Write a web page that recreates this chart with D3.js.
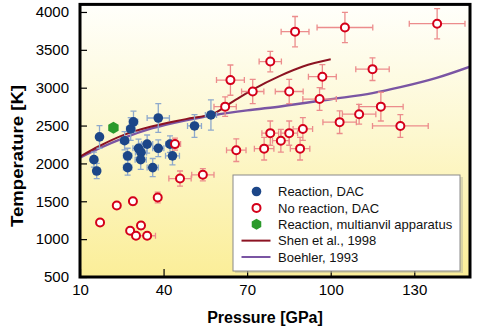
<!DOCTYPE html>
<html>
<head>
<meta charset="utf-8">
<script src="https://cdn.jsdelivr.net/npm/d3@7"></script>
<style>
  body { margin: 0; background: #fff; }
  svg text { font-family: "Liberation Sans", Arial, sans-serif; }
</style>
</head>
<body>
<div class="container"></div>
<script>
// pressure [GPa], temperature [K], pressure error, temperature error
var reactionP  = [17, 15, 16, 26, 28.2, 29.2, 38.1, 51.1, 57, 27.1, 27.1, 31, 34.1, 31.9, 31.8, 38.1, 36.1, 42.3, 43.2];
var reactionT  = [2350, 2050, 1900, 2300, 2455, 2550, 2600, 2495, 2640, 2100, 1945, 2200, 2255, 2145, 2050, 2200, 1945, 2255, 2100];
var reactionDP = [0.5, 0.5, 1, 1.5, 1.5, 1.5, 4, 2.5, 2, 1.5, 1.5, 2, 2, 2, 2, 2, 2, 1.5, 2.5];
var reactionDT = [150, 100, 100, 120, 150, 140, 190, 150, 200, 100, 100, 120, 120, 120, 130, 110, 120, 110, 120];

var noReactP  = [17.2, 23.2, 29, 37.9, 28, 30.1, 31.9, 34.1, 45.9, 54.1, 44.1, 66.1, 76.1, 89, 78.3, 85.1, 82.1, 90,
                 62.1, 64, 72, 85.1, 96, 97, 78.3, 87.2, 105.1, 138.2, 115, 103.2, 110.2, 118, 125];
var noReactT  = [1220, 1445, 1500, 1550, 1110, 1045, 1180, 1045, 1800, 1850, 2255, 2175, 2195, 2195, 2400, 2400, 2300, 2455,
                 2750, 3100, 2950, 2950, 2850, 3145, 3345, 3740, 3795, 3845, 3245, 2545, 2650, 2750, 2495];
var noReactDP = [0, 0, 0.5, 1, 0, 0, 0, 3, 4, 4, 2, 3.5, 3.5, 3.5, 3, 3, 3, 3.5,
                 4, 5, 4, 5, 6, 5, 4, 5, 10, 10, 6, 6, 6, 8, 10];
var noReactDT = [0, 0, 50, 70, 0, 0, 50, 0, 100, 80, 80, 150, 150, 150, 160, 160, 150, 150,
                 130, 200, 160, 160, 150, 160, 135, 200, 200, 200, 150, 150, 130, 190, 150];

var multianvilP = [22];
var multianvilT = [2470];

var shenP = [10, 17, 26, 36, 48, 58, 65, 72, 82, 90, 100];
var shenT = [2090, 2230, 2380, 2490, 2585, 2660, 2820, 2975, 3160, 3280, 3375];

var boehlerP = [10, 17, 26, 36, 48, 58.5, 70, 82.5, 100, 115, 125, 138, 150];
var boehlerT = [2075, 2200, 2340, 2465, 2570, 2640, 2700, 2755, 2848, 2928, 3007, 3130, 3278];

var xTicks = [10, 40, 70, 100, 130];
var yTicks = [500, 1000, 1500, 2000, 2500, 3000, 3500, 4000];

var legendLabels = ["Reaction, DAC", "No reaction, DAC", "Reaction, multianvil apparatus", "Shen et al., 1998", "Boehler, 1993"];

var width = 479, height = 330;
var plotLeft = 80, plotRight = 470, plotTop = 4.4, plotBottom = 277;

var x = d3.scaleLinear().domain([10, 150]).range([plotLeft, plotRight]);
var y = d3.scaleLinear().domain([500, 4100]).range([plotBottom, plotTop]);

var svg = d3.select(".container").append("svg")
            .attr("width", width)
            .attr("height", height);

var defs = svg.append("defs");
var grad = defs.append("linearGradient")
               .attr("id", "bg")
               .attr("x1", 0).attr("y1", 0).attr("x2", 0).attr("y2", 1);
grad.append("stop").attr("offset", "0%").attr("stop-color", "#fffffb");
grad.append("stop").attr("offset", "45%").attr("stop-color", "#fdf8d2");
grad.append("stop").attr("offset", "100%").attr("stop-color", "#fbee98");

svg.append("clipPath").attr("id", "clip")
   .append("rect")
   .attr("x", plotLeft).attr("y", plotTop)
   .attr("width", plotRight - plotLeft).attr("height", plotBottom - plotTop);

svg.append("rect")
   .attr("x", plotLeft).attr("y", plotTop)
   .attr("width", plotRight - plotLeft).attr("height", plotBottom - plotTop)
   .attr("fill", "url(#bg)");

// axes with inward ticks
var xAxis = svg.append("g")
               .attr("transform", `translate(0,${plotBottom})`)
               .call(d3.axisBottom(x).tickValues(xTicks).tickFormat(d3.format("d"))
                       .tickSizeInner(-8).tickSizeOuter(0).tickPadding(13));
var yAxis = svg.append("g")
               .attr("transform", `translate(${plotLeft},0)`)
               .call(d3.axisLeft(y).tickValues(yTicks).tickFormat(d3.format("d"))
                       .tickSizeInner(-7).tickSizeOuter(0).tickPadding(11));

[xAxis, yAxis].forEach(function(a) {
  a.select(".domain").remove();
  a.selectAll(".tick line").attr("stroke", "#000").attr("stroke-width", 1.2);
  a.selectAll("text").attr("fill", "#000").style("font-size", "15px");
});
xAxis.selectAll("text").attr("dy", "0.35em");

var plot = svg.append("g").attr("clip-path", "url(#clip)");

// curves
var line = d3.line().x(d => x(d[0])).y(d => y(d[1])).curve(d3.curveMonotoneX);

plot.append("path")
    .datum(d3.zip(boehlerP, boehlerT))
    .attr("d", line)
    .attr("fill", "none")
    .attr("stroke", "#7a55a3")
    .attr("stroke-width", 2.4);

plot.append("path")
    .datum(d3.zip(shenP, shenT))
    .attr("d", line)
    .attr("fill", "none")
    .attr("stroke", "#8c1322")
    .attr("stroke-width", 2);

function errorBars(g, P, T, dP, dT, color) {
  var cap = 3;
  P.forEach(function(p, i) {
    var cx = x(p), cy = y(T[i]);
    if (dP[i] > 0) {
      var x0 = x(p - dP[i]), x1 = x(p + dP[i]);
      g.append("line").attr("x1", x0).attr("x2", x1).attr("y1", cy).attr("y2", cy);
      g.append("line").attr("x1", x0).attr("x2", x0).attr("y1", cy - cap).attr("y2", cy + cap);
      g.append("line").attr("x1", x1).attr("x2", x1).attr("y1", cy - cap).attr("y2", cy + cap);
    }
    if (dT[i] > 0) {
      var y0 = y(T[i] - dT[i]), y1 = y(T[i] + dT[i]);
      g.append("line").attr("x1", cx).attr("x2", cx).attr("y1", y0).attr("y2", y1);
      g.append("line").attr("x1", cx - cap).attr("x2", cx + cap).attr("y1", y0).attr("y2", y0);
      g.append("line").attr("x1", cx - cap).attr("x2", cx + cap).attr("y1", y1).attr("y2", y1);
    }
  });
  g.selectAll("line").attr("stroke", color).attr("stroke-width", 1.3);
}

errorBars(plot.append("g"), reactionP, reactionT, reactionDP, reactionDT, "#8ea9cc");
errorBars(plot.append("g"), noReactP, noReactT, noReactDP, noReactDT, "#ec8c8c");

plot.append("g").selectAll("circle")
    .data(d3.zip(reactionP, reactionT))
    .enter().append("circle")
    .attr("cx", d => x(d[0]))
    .attr("cy", d => y(d[1]))
    .attr("r", 4.8)
    .attr("fill", "#1c4688");

plot.append("g").selectAll("circle")
    .data(d3.zip(noReactP, noReactT))
    .enter().append("circle")
    .attr("cx", d => x(d[0]))
    .attr("cy", d => y(d[1]))
    .attr("r", 4)
    .attr("fill", "#fff")
    .attr("stroke", "#d4001a")
    .attr("stroke-width", 2);

function hexagon(r) {
  return d3.range(6).map(function(k) {
    var a = Math.PI / 3 * k + Math.PI / 6;
    return [r * Math.cos(a), r * Math.sin(a)];
  });
}

plot.append("g").selectAll("path")
    .data(d3.zip(multianvilP, multianvilT))
    .enter().append("path")
    .attr("transform", d => `translate(${x(d[0])},${y(d[1])})`)
    .attr("d", "M" + hexagon(6).join("L") + "Z")
    .attr("fill", "#2b9a2b");

// frame
svg.append("rect")
   .attr("x", plotLeft).attr("y", plotTop)
   .attr("width", plotRight - plotLeft).attr("height", plotBottom - plotTop)
   .attr("fill", "none")
   .attr("stroke", "#000")
   .attr("stroke-width", 3);

// legend
var lg = svg.append("g").attr("transform", "translate(233,175)");
lg.append("rect")
  .attr("x", 2).attr("y", 2)
  .attr("width", 228).attr("height", 96)
  .attr("fill", "#b8b8a0").attr("opacity", 0.5);
lg.append("rect")
  .attr("width", 227).attr("height", 96)
  .attr("fill", "#fff")
  .attr("stroke", "#8a8a8a")
  .attr("stroke-width", 1);

var rowY = d3.scalePoint().domain(legendLabels).range([16.5, 82]);

lg.append("circle")
  .attr("cx", 23.5).attr("cy", rowY(legendLabels[0]))
  .attr("r", 4.8).attr("fill", "#1c4688");
lg.append("circle")
  .attr("cx", 23.5).attr("cy", rowY(legendLabels[1]))
  .attr("r", 4).attr("fill", "#fff")
  .attr("stroke", "#d4001a").attr("stroke-width", 2);
lg.append("path")
  .attr("transform", `translate(23.5,${rowY(legendLabels[2])})`)
  .attr("d", "M" + hexagon(5.5).join("L") + "Z")
  .attr("fill", "#2b9a2b");
lg.append("line")
  .attr("x1", 8.5).attr("x2", 37.5)
  .attr("y1", rowY(legendLabels[3])).attr("y2", rowY(legendLabels[3]))
  .attr("stroke", "#8c1322").attr("stroke-width", 2);
lg.append("line")
  .attr("x1", 8.5).attr("x2", 37.5)
  .attr("y1", rowY(legendLabels[4])).attr("y2", rowY(legendLabels[4]))
  .attr("stroke", "#7a55a3").attr("stroke-width", 2);

lg.selectAll("text.lab")
  .data(legendLabels)
  .enter().append("text")
  .attr("class", "lab")
  .attr("x", 45)
  .attr("y", d => rowY(d))
  .attr("dy", "0.36em")
  .style("font-size", "13px")
  .attr("fill", "#111")
  .text(d => d);

// axis titles
svg.append("text")
   .attr("x", 265).attr("y", 317)
   .attr("dy", "0.35em")
   .attr("text-anchor", "middle")
   .style("font-size", "16px")
   .style("font-weight", "bold")
   .text("Pressure [GPa]");

svg.append("text")
   .attr("transform", "translate(17,156) rotate(-90)")
   .attr("dy", "0.35em")
   .attr("text-anchor", "middle")
   .style("font-size", "16px")
   .style("font-weight", "bold")
   .attr("textLength", 142)
   .attr("lengthAdjust", "spacingAndGlyphs")
   .text("Temperature [K]");
</script>
</body>
</html>
